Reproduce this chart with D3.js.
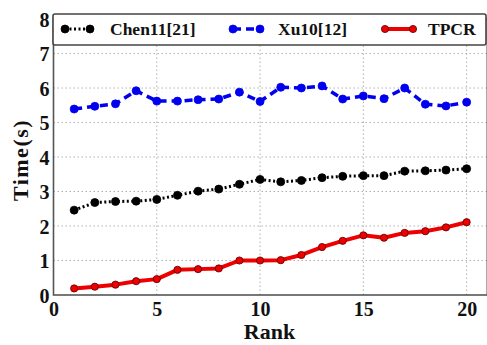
<!DOCTYPE html>
<html>
<head>
<meta charset="utf-8">
<script src="https://cdn.jsdelivr.net/npm/d3@7"></script>
<style>
  html, body { margin: 0; padding: 0; background: #fff; }
</style>
</head>
<body>
<svg id="chart" width="487" height="345" font-family="Liberation Serif"></svg>
<script>
// Rank positions
const ranks = d3.range(1, 21);

// Query time (seconds) per rank for each method
const chen11 = [2.46, 2.68, 2.71, 2.72, 2.77, 2.89, 3.01, 3.07, 3.21, 3.35,
                3.28, 3.32, 3.40, 3.44, 3.46, 3.46, 3.59, 3.60, 3.62, 3.66];
const xu10   = [5.39, 5.47, 5.54, 5.92, 5.62, 5.62, 5.66, 5.68, 5.88, 5.61,
                6.02, 6.00, 6.06, 5.68, 5.77, 5.69, 6.00, 5.53, 5.48, 5.59];
const tpcr   = [0.19, 0.24, 0.30, 0.40, 0.46, 0.73, 0.75, 0.77, 1.00, 1.00,
                1.01, 1.16, 1.39, 1.57, 1.73, 1.66, 1.80, 1.85, 1.96, 2.11];

const seriesNames = ["Chen11[21]", "Xu10[12]", "TPCR"];
const xTicks = [0, 5, 10, 15, 20];
const yTicks = [0, 1, 2, 3, 4, 5, 6, 7, 8];

const series = [
  { name: seriesNames[0], values: chen11, color: "#000000", dash: "2,2.5", width: 3, r: 4, edge: "#000" },
  { name: seriesNames[1], values: xu10,   color: "#0000ee", dash: "8,5",   width: 3.5, r: 4, edge: "#0000ee" },
  { name: seriesNames[2], values: tpcr,   color: "#ee0000", dash: null,    width: 4, r: 3.6, edge: "#550000" }
];

const svg = d3.select("#chart");
const x = d3.scaleLinear().domain([0, 21]).range([53.5, 487.3]);
const y = d3.scaleLinear().domain([0, 8]).range([295, 19]);

function styleText(sel, size) {
  return sel.style("font-family", "'Liberation Serif'").style("font-weight", "bold")
    .style("font-size", size + "px").style("fill", "#111");
}

// Grid lines
const grid = svg.append("g").attr("stroke", "#b0b0b0").attr("stroke-width", 1)
  .attr("stroke-dasharray", "1.5,2.5");
grid.selectAll("line.h").data(yTicks.slice(1, -1)).join("line")
  .attr("x1", x(0)).attr("x2", x(21)).attr("y1", d => y(d)).attr("y2", d => y(d));
grid.selectAll("line.v").data(xTicks.slice(1)).join("line")
  .attr("x1", d => x(d)).attr("x2", d => x(d)).attr("y1", y(0)).attr("y2", y(8));

// Tick labels (axis domain lines removed; the frame is drawn separately)
const xAxis = svg.append("g").attr("transform", `translate(0,${y(0)})`)
  .call(d3.axisBottom(x).tickValues(xTicks).tickSize(0).tickPadding(4));
const yAxis = svg.append("g").attr("transform", `translate(${x(0)},0)`)
  .call(d3.axisLeft(y).tickValues(yTicks).tickSize(0).tickPadding(4));
[xAxis, yAxis].forEach(a => {
  a.select(".domain").remove();
  styleText(a.selectAll("text"), 20);
});
xAxis.selectAll("text").attr("dy", "0.85em");
yAxis.selectAll("text").attr("dy", "0.35em");

// Series lines and markers
const line = d3.line().x((d, i) => x(ranks[i])).y(d => y(d));
series.forEach(s => {
  const g = svg.append("g");
  g.append("path").datum(s.values)
    .attr("d", line).attr("fill", "none")
    .attr("stroke", s.color).attr("stroke-width", s.width)
    .attr("stroke-dasharray", s.dash).attr("stroke-linejoin", "round");
  g.selectAll("circle").data(s.values).join("circle")
    .attr("cx", (d, i) => x(ranks[i])).attr("cy", d => y(d))
    .attr("r", s.r).attr("fill", s.color)
    .attr("stroke", s.edge).attr("stroke-width", 0.8);
});

// Axes frame
svg.append("rect")
  .attr("x", x(0)).attr("y", y(8))
  .attr("width", x(21) - x(0)).attr("height", y(0) - y(8))
  .attr("fill", "none").attr("stroke", "#555").attr("stroke-width", 1.6);

// Legend across the top of the axes
const lg = svg.append("g");
lg.append("rect")
  .attr("x", 53).attr("y", 14).attr("width", 433).attr("height", 31).attr("rx", 2)
  .attr("fill", "#fff").attr("stroke", "#444").attr("stroke-width", 1.6);
const legendPos = [
  { x0: 65, x1: 90, tx: 110 },
  { x0: 233, x1: 260, tx: 278 },
  { x0: 385, x1: 413, tx: 428 }
];
series.forEach((s, i) => {
  const p = legendPos[i];
  const ly = 29;
  lg.append("line").attr("x1", p.x0).attr("x2", p.x1).attr("y1", ly).attr("y2", ly)
    .attr("stroke", s.color).attr("stroke-width", s.width).attr("stroke-dasharray", s.dash);
  lg.selectAll(null).data([p.x0, p.x1]).join("circle")
    .attr("cx", d => d).attr("cy", ly).attr("r", s.r)
    .attr("fill", s.color).attr("stroke", s.edge).attr("stroke-width", 0.8);
  styleText(lg.append("text"), 17.5)
    .attr("x", p.tx).attr("y", ly).attr("dy", "0.35em").text(s.name);
});

// Axis titles
styleText(svg.append("text"), 22)
  .attr("x", 269.5).attr("y", 339).attr("text-anchor", "middle").text("Rank");
styleText(svg.append("text"), 22)
  .style("letter-spacing", "1.5px")
  .attr("transform", "translate(28,160) rotate(-90)")
  .attr("text-anchor", "middle").text("Time(s)");
</script>
</body>
</html>
